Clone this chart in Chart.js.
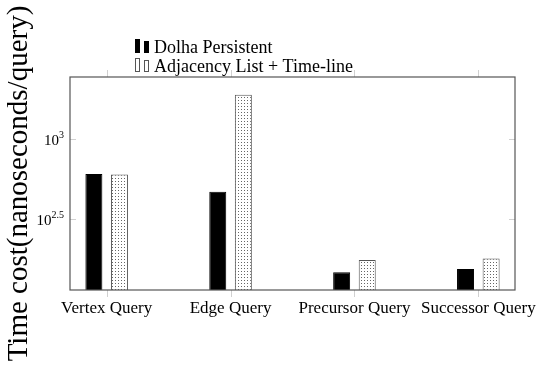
<!DOCTYPE html>
<html>
<head>
<meta charset="utf-8">
<script src="https://cdn.jsdelivr.net/npm/chart.js@4"></script>
<style>
  html, body { margin: 0; padding: 0; background: #fff; }
  canvas { display: block; }
</style>
</head>
<body>
<canvas id="chart" width="539" height="368"></canvas>
<script>
const categories = ['Vertex Query', 'Edge Query', 'Precursor Query', 'Successor Query'];
const dolhaPersistent = [604, 467, 147, 154];
const adjacencyTimeline = [600, 1890, 175, 179];
const yTickExponents = [2.5, 3];
const seriesNames = ['Dolha Persistent', 'Adjacency List + Time-line'];

const serif = "'Liberation Serif', 'DejaVu Serif', serif";

// dotted fill like the pgfplots pattern
function dotPattern() {
    const c = document.createElement('canvas');
    c.width = 3;
    c.height = 3;
    const g = c.getContext('2d');
    g.fillStyle = '#fff';
    g.fillRect(0, 0, 3, 3);
    g.fillStyle = '#666';
    g.fillRect(1, 1, 1, 1);
    return g.createPattern(c, 'repeat');
}
const dots = dotPattern();

// frame, inward/outward tick marks, y tick labels and legend
const framePlugin = {
    id: 'frame',
    afterDraw(chart) {
        const { ctx, chartArea: a } = chart;
        const xs = chart.scales.x;
        const ys = chart.scales.y;
        ctx.save();

        ctx.strokeStyle = '#d0d0d0';
        ctx.lineWidth = 1;
        categories.forEach((c, i) => {
            const x = Math.round(xs.getPixelForValue(i)) + 0.5;
            ctx.beginPath();
            ctx.moveTo(x, a.bottom);
            ctx.lineTo(x, a.bottom + 7);
            ctx.moveTo(x, a.top);
            ctx.lineTo(x, a.top - 7);
            ctx.stroke();
        });
        yTickExponents.forEach(e => {
            const y = Math.round(ys.getPixelForValue(Math.pow(10, e))) + 0.5;
            ctx.beginPath();
            ctx.moveTo(a.left, y);
            ctx.lineTo(a.left + 6, y);
            ctx.moveTo(a.right, y);
            ctx.lineTo(a.right - 6, y);
            ctx.stroke();
        });

        ctx.strokeStyle = '#555';
        ctx.lineWidth = 1.2;
        ctx.strokeRect(a.left, a.top, a.right - a.left, a.bottom - a.top);

        // y tick labels: 10 with a raised exponent
        ctx.fillStyle = '#000';
        ctx.textBaseline = 'alphabetic';
        yTickExponents.forEach(e => {
            const y = ys.getPixelForValue(Math.pow(10, e));
            const sup = String(e);
            ctx.font = '10px ' + serif;
            const sw = ctx.measureText(sup).width;
            ctx.font = '15px ' + serif;
            const bw = ctx.measureText('10').width;
            const right = a.left - 6;
            ctx.textAlign = 'left';
            ctx.fillText('10', right - sw - bw, y + 6);
            ctx.font = '10px ' + serif;
            ctx.fillText(sup, right - sw, y - 1);
        });

        // legend
        const lx = 135;
        const rows = [53, 72];
        seriesNames.forEach((name, i) => {
            const base = rows[i];
            const draw = (x, h) => {
                if (i === 0) {
                    ctx.fillStyle = '#000';
                    ctx.fillRect(x, base - h, 5, h);
                } else {
                    ctx.fillStyle = '#fff';
                    ctx.fillRect(x, base - h, 5, h);
                    ctx.strokeStyle = '#555';
                    ctx.lineWidth = 1;
                    ctx.strokeRect(x + 0.5, base - h + 0.5, 4, h - 1);
                }
            };
            draw(lx, 14);
            draw(lx + 9, 12);
            ctx.fillStyle = '#000';
            ctx.font = '18px ' + serif;
            ctx.textAlign = 'left';
            ctx.fillText(name, lx + 19, base);
        });
        ctx.restore();
    }
};

new Chart(document.getElementById('chart'), {
    type: 'bar',
    data: {
        datasets: [
            {
                label: seriesNames[0],
                data: categories.map((c, i) => ({ x: i, y: dolhaPersistent[i] })),
                backgroundColor: '#000',
                borderColor: '#000',
                borderWidth: 1
            },
            {
                label: seriesNames[1],
                data: categories.map((c, i) => ({ x: i, y: adjacencyTimeline[i] })),
                backgroundColor: dots,
                borderColor: '#555',
                borderWidth: 1
            }
        ]
    },
    options: {
        responsive: false,
        animation: false,
        categoryPercentage: 0.413,
        barPercentage: 0.664,
        layout: { padding: { left: 0, right: 24, top: 77, bottom: 0 } },
        plugins: {
            legend: { display: false },
            tooltip: { enabled: false }
        },
        scales: {
            x: {
                type: 'linear',
                offset: false,
                min: -0.296,
                max: 3.296,
                grid: { display: false, drawTicks: false },
                border: { display: false },
                afterBuildTicks(scale) {
                    scale.ticks = categories.map((c, i) => ({ value: i }));
                },
                afterFit(scale) {
                    scale.height = 78;
                    scale.paddingLeft = 0;
                    scale.paddingRight = 0;
                },
                ticks: {
                    includeBounds: false,
                    maxRotation: 0,
                    autoSkip: false,
                    padding: 8,
                    color: '#000',
                    font: { family: serif, size: 17 },
                    callback: v => categories[v]
                }
            },
            y: {
                type: 'logarithmic',
                min: 113.7,
                max: 2441,
                grid: { display: false, drawTicks: false },
                border: { display: false },
                afterFit(scale) {
                    scale.width = 70;
                    scale.paddingTop = 0;
                    scale.paddingBottom = 0;
                },
                ticks: { display: false },
                title: {
                    display: true,
                    text: 'Time cost(nanoseconds/query)',
                    color: '#000',
                    font: { family: serif, size: 29, weight: 'normal' },
                    padding: { top: 2, bottom: 0 }
                }
            }
        }
    },
    plugins: [framePlugin]
});
</script>
</body>
</html>
